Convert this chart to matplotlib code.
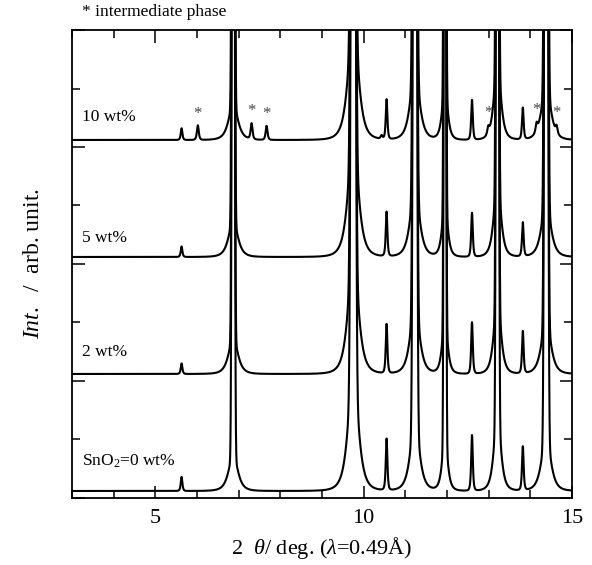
import numpy as np
import matplotlib
matplotlib.use('Agg')
import matplotlib.pyplot as plt

plt.rcParams['font.family'] = ['Liberation Serif', 'DejaVu Serif']
plt.rcParams['mathtext.fontset'] = 'custom'
plt.rcParams['mathtext.rm'] = 'Liberation Serif'
plt.rcParams['mathtext.it'] = 'Liberation Serif:italic'

# strong reflections (off scale in every pattern)
main_pos = [6.87, 9.75, 11.23, 11.95, 13.21, 14.38]
main_height = [40, 40, 40, 40, 40, 40]
main_core = [0.022, 0.035, 0.030, 0.018, 0.022, 0.028]
# shoulder of the strong reflections
shoulder_height = [0.6, 2.0, 1.15, 0.88, 1.28, 0.91]
shoulder_width = [0.20, 0.22, 0.20, 0.12, 0.15, 0.20]

# weak reflections, height per sample
minor_pos = [5.63, 10.55, 12.60, 13.82]
h_0wt = [0.24, 0.88, 0.95, 0.75]
h_2wt = [0.18, 0.84, 0.88, 0.72]
h_5wt = [0.18, 0.76, 0.75, 0.58]
h_10wt = [0.20, 0.68, 0.68, 0.54]

# intermediate phase (10 wt% only)
inter_pos = [6.02, 7.31, 7.67, 10.43, 12.99, 14.15, 14.63]
inter_height = [0.25, 0.27, 0.24, 0.06, 0.12, 0.14, 0.12]
star_pos = [6.02, 7.31, 7.67, 12.99, 14.15, 14.63]

labels = ['SnO$_2$=0 wt%', '2 wt%', '5 wt%', '10 wt%']
offsets = [0, 2, 4, 6]
label_y = [0.63, 2.50, 4.44, 6.51]
background = 0.12


def pv2(x, c, h, w):
    return h / (1 + ((x - c) / w) ** 2) ** 2


x = np.arange(3, 15.001, 0.002)


def pattern(minor_h, extra=False):
    y = np.full_like(x, background)
    for c, h, s, hs, ws in zip(main_pos, main_height, main_core, shoulder_height, shoulder_width):
        y += h * np.exp(-(x - c) ** 2 / (2 * s ** 2))
        y += pv2(x, c, hs, ws)
    for c, h in zip(minor_pos, minor_h):
        y += pv2(x, c, h, 0.035)
    if extra:
        for c, h in zip(inter_pos, inter_height):
            y += pv2(x, c, h, 0.04)
    return y


fig = plt.figure(figsize=(5.92, 5.65), dpi=100)
ax = fig.add_axes([0.1216, 0.1186, 0.8446, 0.8283])

patterns = [pattern(h_0wt), pattern(h_2wt), pattern(h_5wt), pattern(h_10wt, extra=True)]
for y, off in zip(patterns, offsets):
    ax.plot(x, y + off, color='black', lw=1.5)

for lab, ly in zip(labels, label_y):
    ax.text(3.23, ly, lab, fontsize=12.5, va='center', ha='left')

y10 = patterns[3] + offsets[3]
for sp in star_pos:
    near = (x > sp - 0.03) & (x < sp + 0.03)
    ax.text(sp, y10[near].max() + 0.2, '*', fontsize=12, color='#444444',
            ha='center', va='center')

fig.text(82 / 592, 1 - 12 / 565, '* intermediate phase', fontsize=12.5, va='center', ha='left')

ax.set_xlim(3, 15)
ax.set_ylim(0, 8)
ax.set_xticks([5, 10, 15])
ax.set_xticks(np.arange(3, 16), minor=True)
ax.set_yticks([0, 2, 4, 6, 8])
ax.set_yticks([1, 3, 5, 7], minor=True)
ax.set_yticklabels([])
ax.tick_params(which='both', direction='in', top=True, right=True, width=1.1)
ax.tick_params(which='major', length=9, labelsize=16, pad=8)
ax.tick_params(which='minor', length=5.5)
for s in ax.spines.values():
    s.set_linewidth(1.3)

ax.set_xlabel(r'2  $\theta$/ deg. ($\lambda$=0.49Å)', fontsize=16, labelpad=5)
ax.set_ylabel(r'$\mathit{Int.}$  /  arb. unit.', fontsize=17, labelpad=12)

fig.savefig('out.png', dpi=100)
